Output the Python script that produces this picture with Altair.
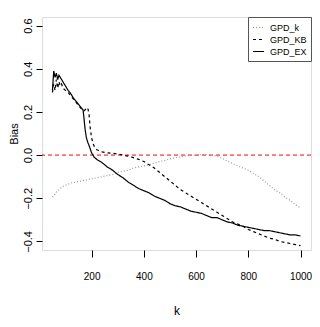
import altair as alt
import pandas as pd

# ---- data ----
k_ex = [50, 55, 60, 65, 70, 75, 80, 85, 90, 100, 110, 120, 130, 140, 150, 160, 167, 170, 175, 180,
        185, 190, 200, 210, 220, 240, 260, 280, 300, 320, 340, 360, 380, 400, 420, 440, 460, 480,
        500, 520, 540, 560, 580, 600, 620, 640, 660, 680, 700, 720, 740, 760, 780, 800, 820, 840,
        860, 880, 900, 920, 940, 960, 980, 1000]
v_ex = [0.30, 0.39, 0.36, 0.38, 0.35, 0.37, 0.36, 0.35, 0.34, 0.32, 0.30, 0.285, 0.265, 0.25, 0.235,
        0.22, 0.21, 0.18, 0.12, 0.08, 0.06, 0.045, 0.01, -0.01, -0.02, -0.035, -0.055, -0.07, -0.09,
        -0.105, -0.125, -0.14, -0.155, -0.165, -0.175, -0.19, -0.2, -0.21, -0.225, -0.235, -0.24,
        -0.25, -0.26, -0.265, -0.27, -0.28, -0.29, -0.29, -0.3, -0.31, -0.315, -0.325, -0.33,
        -0.335, -0.34, -0.345, -0.35, -0.35, -0.355, -0.36, -0.365, -0.37, -0.37, -0.375]

k_kb = [50, 55, 60, 65, 70, 75, 80, 85, 90, 100, 110, 120, 130, 140, 150, 160, 170, 180, 185, 190,
        195, 200, 205, 210, 220, 240, 260, 280, 300, 320, 340, 360, 380, 400, 420, 440, 460, 480,
        500, 520, 540, 560, 580, 600, 620, 640, 660, 680, 700, 720, 740, 760, 780, 800, 820, 840,
        860, 880, 900, 920, 940, 960, 980, 1000]
v_kb = [0.29, 0.33, 0.30, 0.35, 0.31, 0.34, 0.32, 0.33, 0.31, 0.30, 0.29, 0.275, 0.26, 0.245, 0.23,
        0.215, 0.205, 0.215, 0.22, 0.19, 0.12, 0.08, 0.055, 0.04, 0.025, 0.015, 0.01, 0.008, 0.005,
        0.0, -0.005, -0.012, -0.02, -0.03, -0.045, -0.06, -0.08, -0.1, -0.12, -0.14, -0.16, -0.175,
        -0.19, -0.205, -0.22, -0.235, -0.25, -0.265, -0.28, -0.295, -0.31, -0.32, -0.33, -0.345,
        -0.355, -0.365, -0.375, -0.385, -0.39, -0.4, -0.405, -0.41, -0.415, -0.42]

k_k = [50, 60, 70, 80, 90, 100, 120, 140, 160, 180, 200, 220, 240, 260, 280, 300, 320, 340, 360,
       380, 400, 420, 440, 460, 480, 500, 520, 540, 560, 580, 600, 620, 640, 660, 680, 700, 720,
       740, 760, 780, 800, 820, 840, 860, 880, 900, 920, 940, 960, 980, 1000]
v_k = [-0.195, -0.18, -0.165, -0.155, -0.145, -0.14, -0.13, -0.125, -0.12, -0.115, -0.11, -0.105,
       -0.1, -0.095, -0.09, -0.08, -0.075, -0.07, -0.06, -0.055, -0.05, -0.045, -0.038, -0.03,
       -0.025, -0.018, -0.012, -0.008, -0.004, -0.001, 0.0, 0.002, 0.002, 0.0, -0.005, -0.015,
       -0.028, -0.04, -0.05, -0.06, -0.07, -0.085, -0.1, -0.12, -0.14, -0.16, -0.175, -0.195,
       -0.21, -0.23, -0.245]

series = ["GPD_k", "GPD_KB", "GPD_EX"]
x_ticks = [200, 400, 600, 800, 1000]
y_ticks = [-0.4, -0.2, 0.0, 0.2, 0.4, 0.6]

rows = []
for name, ks, vs in [("GPD_k", k_k, v_k), ("GPD_KB", k_kb, v_kb), ("GPD_EX", k_ex, v_ex)]:
    for kk, vv in zip(ks, vs):
        rows.append({"k": kk, "Bias": vv, "series": name})
df = pd.DataFrame(rows)

FONT = "Liberation Sans, Arial"

x = alt.X("k:Q", scale=alt.Scale(domain=[10, 1040], nice=False, zero=False),
          axis=alt.Axis(values=x_ticks, grid=False, domain=False, tickSize=7, tickColor="black",
                        format="d", labelFont=FONT, labelFontSize=10, labelColor="black",
                        labelPadding=14,
                        title="k", titleFont=FONT, titleFontSize=12, titleFontWeight="normal",
                        titleColor="black", titleX=134.5, titleY=60, titleBaseline="middle",
                        titleAlign="center"))
y = alt.Y("Bias:Q", scale=alt.Scale(domain=[-0.44, 0.64], nice=False, zero=False),
          axis=alt.Axis(values=y_ticks, grid=False, domain=False, tickSize=6, tickColor="black",
                        format=".1f", labelFont=FONT, labelFontSize=11, labelColor="black",
                        labelAngle=270, labelAlign="center", labelBaseline="bottom", labelPadding=3,
                        title="Bias", titleFont=FONT, titleFontSize=11, titleFontWeight="normal",
                        titleColor="black", titleX=-27.5, titleY=116.5,
                        titleBaseline="middle", titleAlign="center"))

leg = alt.Legend(title=None, orient="top-right", offset=0,
                 symbolType="stroke", symbolSize=121, symbolStrokeWidth=1.2,
                 labelFont=FONT, labelFontSize=9, labelColor="black",
                 labelOffset=5, rowPadding=0, padding=4,
                 strokeColor="#555555", fillColor="white")

lines = alt.Chart(df).mark_line(strokeWidth=1.2).encode(
    x=x, y=y,
    color=alt.Color("series:N", scale=alt.Scale(domain=series, range=["#999999", "black", "black"]),
                    legend=leg),
    strokeDash=alt.StrokeDash("series:N", scale=alt.Scale(domain=series, range=[[1, 2], [3, 3], [1, 0]]),
                              legend=leg),
    order=alt.Order("k:Q"),
)

zero = alt.Chart(pd.DataFrame({"y": [0.0]})).mark_rule(color="red", strokeDash=[4, 3], strokeWidth=1).encode(
    y=alt.Y("y:Q", scale=alt.Scale(domain=[-0.44, 0.64], nice=False, zero=False))
)

chart = alt.layer(zero, lines).properties(
    width=269, height=233,
    autosize=alt.AutoSizeParams(type="none"),
    padding={"left": 34, "top": 9, "right": 1, "bottom": 67},
).configure_view(stroke="black", strokeWidth=1).configure(background="white")

chart.save("out.html", embed_options={"renderer": "svg", "actions": False})
